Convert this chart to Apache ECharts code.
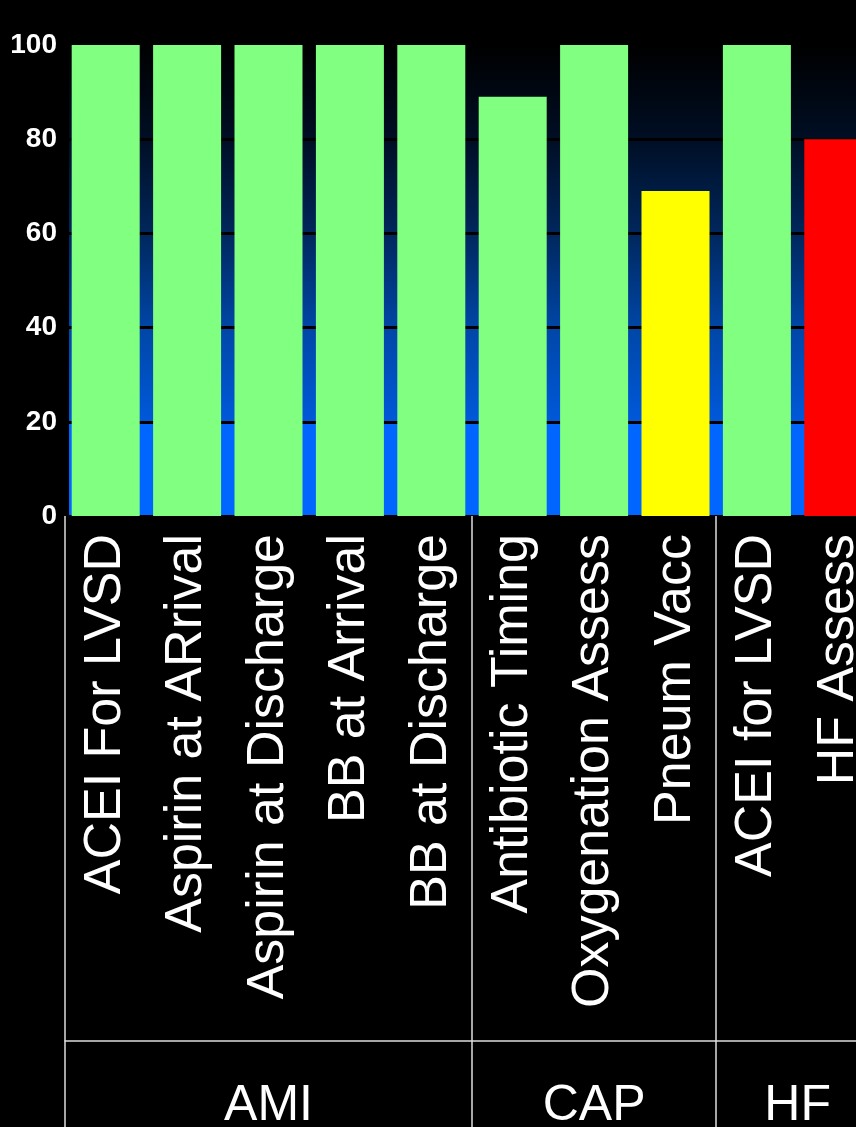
<!DOCTYPE html>
<html>
<head>
<meta charset="utf-8">
<title>Core Measures</title>
<script src="https://cdn.jsdelivr.net/npm/echarts@6/dist/echarts.min.js"></script>
<style>
  html, body { margin: 0; padding: 0; background: #000; }
  #chart { width: 856px; height: 1127px; }
</style>
</head>
<body>
<div id="chart"></div>
<script>
// Measures, in the order they are plotted
const categories = [
  'ACEI For LVSD', 'Aspirin at ARrival', 'Aspirin at Discharge', 'BB at Arrival', 'BB at Discharge',
  'Antibiotic Timing', 'Oxygenation Assess', 'Pneum Vacc',
  'ACEI for LVSD', 'HF Assess'
];
// Compliance score (%) for each measure
const scores = [100, 100, 100, 100, 100, 89, 100, 69, 100, 80];
// Status colour of each bar
const barColors = ['#80ff80', '#80ff80', '#80ff80', '#80ff80', '#80ff80',
                   '#80ff80', '#80ff80', '#ffff00', '#80ff80', '#ff0000'];
// Condition groups: name, first measure index, number of measures
const groupNames = ['AMI', 'CAP', 'HF'];
const groupStarts = [0, 5, 8];
const groupSizes = [5, 3, 2];
// Value axis ticks
const yTicks = [0, 20, 40, 60, 80, 100];

const font = '"Liberation Sans", Arial, Helvetica, sans-serif';
const groupCenters = groupStarts.map((s, i) => s + groupSizes[i] / 2);

const chart = echarts.init(document.getElementById('chart'), null, { renderer: 'canvas' });

chart.setOption({
  backgroundColor: '#000000',
  animation: false,
  grid: {
    // the plot runs a little past the right edge of the page
    left: 65, top: 45, width: 814, height: 471,
    outerBoundsMode: 'none',
    containLabel: false,
    show: true,
    borderWidth: 0,
    backgroundColor: {
      type: 'linear', x: 0, y: 0, x2: 0, y2: 1,
      colorStops: [
        { offset: 0, color: '#000000' },
        { offset: 0.2, color: '#000e24' },
        { offset: 0.4, color: '#00275c' },
        { offset: 0.6, color: '#0046a6' },
        { offset: 0.8, color: '#0059da' },
        { offset: 0.8, color: '#0066ff' },
        { offset: 1, color: '#0066ff' }
      ]
    }
  },
  xAxis: [
    {
      type: 'category',
      data: categories,
      axisLine: { show: false },
      axisTick: { show: false },
      axisLabel: {
        interval: 0,
        rotate: 90,
        margin: 18,
        color: '#ffffff',
        fontFamily: font,
        fontSize: 52
      }
    },
    {
      // group separators and group names, in units of category bands
      type: 'value',
      min: 0, max: categories.length,
      position: 'bottom',
      axisLine: { show: false },
      splitLine: { show: false },
      axisTick: {
        show: true,
        customValues: groupStarts,
        length: 611,
        lineStyle: { color: '#dddddd', width: 1.5 }
      },
      axisLabel: {
        customValues: groupCenters,
        formatter: v => groupNames[groupCenters.indexOf(v)] || '',
        margin: 565,
        color: '#ffffff',
        fontFamily: font,
        fontSize: 50
      }
    },
    {
      // rule between the measure names and the group names
      type: 'value',
      min: 0, max: categories.length,
      position: 'bottom',
      offset: 525,
      axisLine: { show: true, lineStyle: { color: '#dddddd', width: 1.5 } },
      axisTick: { show: false },
      axisLabel: { show: false },
      splitLine: { show: false }
    }
  ],
  yAxis: {
    type: 'value',
    min: yTicks[0],
    max: yTicks[yTicks.length - 1],
    interval: yTicks[1] - yTicks[0],
    axisLine: { show: true, lineStyle: { color: '#000000', width: 8 } },
    axisTick: { show: false },
    axisLabel: {
      margin: 8,
      color: '#ffffff',
      fontFamily: font,
      fontSize: 28,
      fontWeight: 'bold'
    },
    splitLine: { show: true, lineStyle: { color: '#000000', width: 3 } }
  },
  series: [{
    type: 'bar',
    xAxisIndex: 0,
    barWidth: 68,
    data: scores.map((v, i) => ({ value: v, itemStyle: { color: barColors[i] } }))
  }]
});
</script>
</body>
</html>
